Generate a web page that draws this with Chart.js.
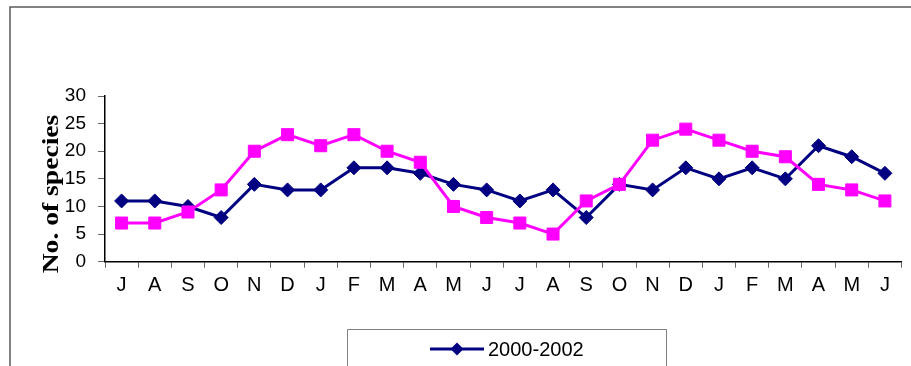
<!DOCTYPE html>
<html>
<head>
<meta charset="utf-8">
<script src="https://cdn.jsdelivr.net/npm/chart.js@4.4.0/dist/chart.umd.min.js"></script>
<style>
  html, body { margin: 0; padding: 0; background: #fff; overflow: hidden; }
  #wrap { position: relative; width: 911px; height: 366px; }
  canvas { display: block; }
</style>
</head>
<body>
<div id="wrap"><canvas id="c" width="911" height="366"></canvas></div>
<script>
// Monthly samples, June through the following June, over two years
const months = ['J','A','S','O','N','D','J','F','M','A','M','J','J','A','S','O','N','D','J','F','M','A','M','J'];
// Species counts per month
const speciesA = [11,11,10,8,14,13,13,17,17,16,14,13,11,13,8,14,13,17,15,17,15,21,19,16];
const speciesB = [7,7,9,13,20,23,21,23,20,18,10,8,7,5,11,14,22,24,22,20,19,14,13,11];
const yTicks = [0,5,10,15,20,25,30];
const seriesLabel = '2000-2002';
const yTitle = 'No. of species';

const NAVY = '#000080';
const MAGENTA = '#FF00FF';
const SANS = '"Liberation Sans", Arial, sans-serif';
const SERIF = '"Liberation Serif", "Times New Roman", serif';

// Outer frame, rotated axis title and the boxed legend
const decorations = {
  id: 'decorations',
  afterDraw(chart) {
    const ctx = chart.ctx;
    ctx.save();

    // frame
    ctx.strokeStyle = '#595959';
    ctx.lineWidth = 1.5;
    ctx.beginPath();
    ctx.moveTo(10, 366);
    ctx.lineTo(10, 7);
    ctx.lineTo(911, 7);
    ctx.stroke();

    // y axis title (bold serif, drawn over the tick labels)
    ctx.save();
    ctx.translate(58, 194);
    ctx.rotate(-Math.PI / 2);
    ctx.scale(1.15, 1);
    ctx.fillStyle = '#000';
    ctx.font = 'bold 24px ' + SERIF;
    ctx.textAlign = 'center';
    ctx.textBaseline = 'alphabetic';
    ctx.fillText(yTitle, 0, 0);
    ctx.restore();

    // legend box
    ctx.strokeStyle = '#808080';
    ctx.lineWidth = 1;
    ctx.beginPath();
    ctx.moveTo(347.5, 370);
    ctx.lineTo(347.5, 329.5);
    ctx.lineTo(666.5, 329.5);
    ctx.lineTo(666.5, 370);
    ctx.stroke();

    // legend entry for the first series
    const ds = chart.data.datasets[0];
    const ly = 349;
    ctx.strokeStyle = ds.borderColor;
    ctx.lineWidth = 3;
    ctx.beginPath();
    ctx.moveTo(430, ly);
    ctx.lineTo(484, ly);
    ctx.stroke();
    ctx.fillStyle = ds.pointBackgroundColor;
    const r = 6.5;
    ctx.beginPath();
    ctx.moveTo(457, ly - r);
    ctx.lineTo(457 + r, ly);
    ctx.lineTo(457, ly + r);
    ctx.lineTo(457 - r, ly);
    ctx.closePath();
    ctx.fill();
    ctx.fillStyle = '#000';
    ctx.font = '20px ' + SANS;
    ctx.textAlign = 'left';
    ctx.textBaseline = 'middle';
    ctx.fillText(ds.label, 488, ly + 1);

    ctx.restore();
  }
};

new Chart(document.getElementById('c'), {
  type: 'line',
  data: {
    labels: months,
    datasets: [
      {
        label: seriesLabel,
        data: speciesA,
        borderColor: NAVY,
        backgroundColor: NAVY,
        pointBackgroundColor: NAVY,
        pointBorderColor: NAVY,
        borderWidth: 3,
        pointStyle: 'rectRot',
        pointRadius: 7,
        pointBorderWidth: 1,
        tension: 0,
        order: 1
      },
      {
        label: 'series-b',
        data: speciesB,
        borderColor: MAGENTA,
        backgroundColor: MAGENTA,
        pointBackgroundColor: MAGENTA,
        pointBorderColor: MAGENTA,
        borderWidth: 3,
        pointStyle: 'rect',
        pointRadius: 8.5,
        pointBorderWidth: 1,
        tension: 0,
        order: 0
      }
    ]
  },
  options: {
    responsive: false,
    animation: false,
    devicePixelRatio: 1,
    layout: { padding: { top: 96, right: 8, left: 0, bottom: 0 } },
    plugins: { legend: { display: false }, tooltip: { enabled: false } },
    scales: {
      x: {
        type: 'category',
        offset: true,
        grid: { display: true, drawOnChartArea: false, drawTicks: true, tickLength: 6, offset: true, color: '#666', lineWidth: 1 },
        border: { display: true, color: '#000', width: 1.5 },
        ticks: { color: '#000', font: { family: SANS, size: 20 }, padding: 6, maxRotation: 0, autoSkip: false },
        afterFit(s) { s.height = 366 - 261.7; }
      },
      y: {
        min: 0,
        max: 30,
        afterBuildTicks(s) { s.ticks = yTicks.map(v => ({ value: v })); },
        grid: { display: true, drawOnChartArea: false, drawTicks: true, tickLength: 7, color: '#666', lineWidth: 1 },
        border: { display: true, color: '#000', width: 1.5 },
        ticks: { color: '#000', font: { family: SANS, size: 19 }, padding: 12 },
        afterFit(s) { s.width = 105; }
      }
    }
  },
  plugins: [decorations]
});
</script>
</body>
</html>
